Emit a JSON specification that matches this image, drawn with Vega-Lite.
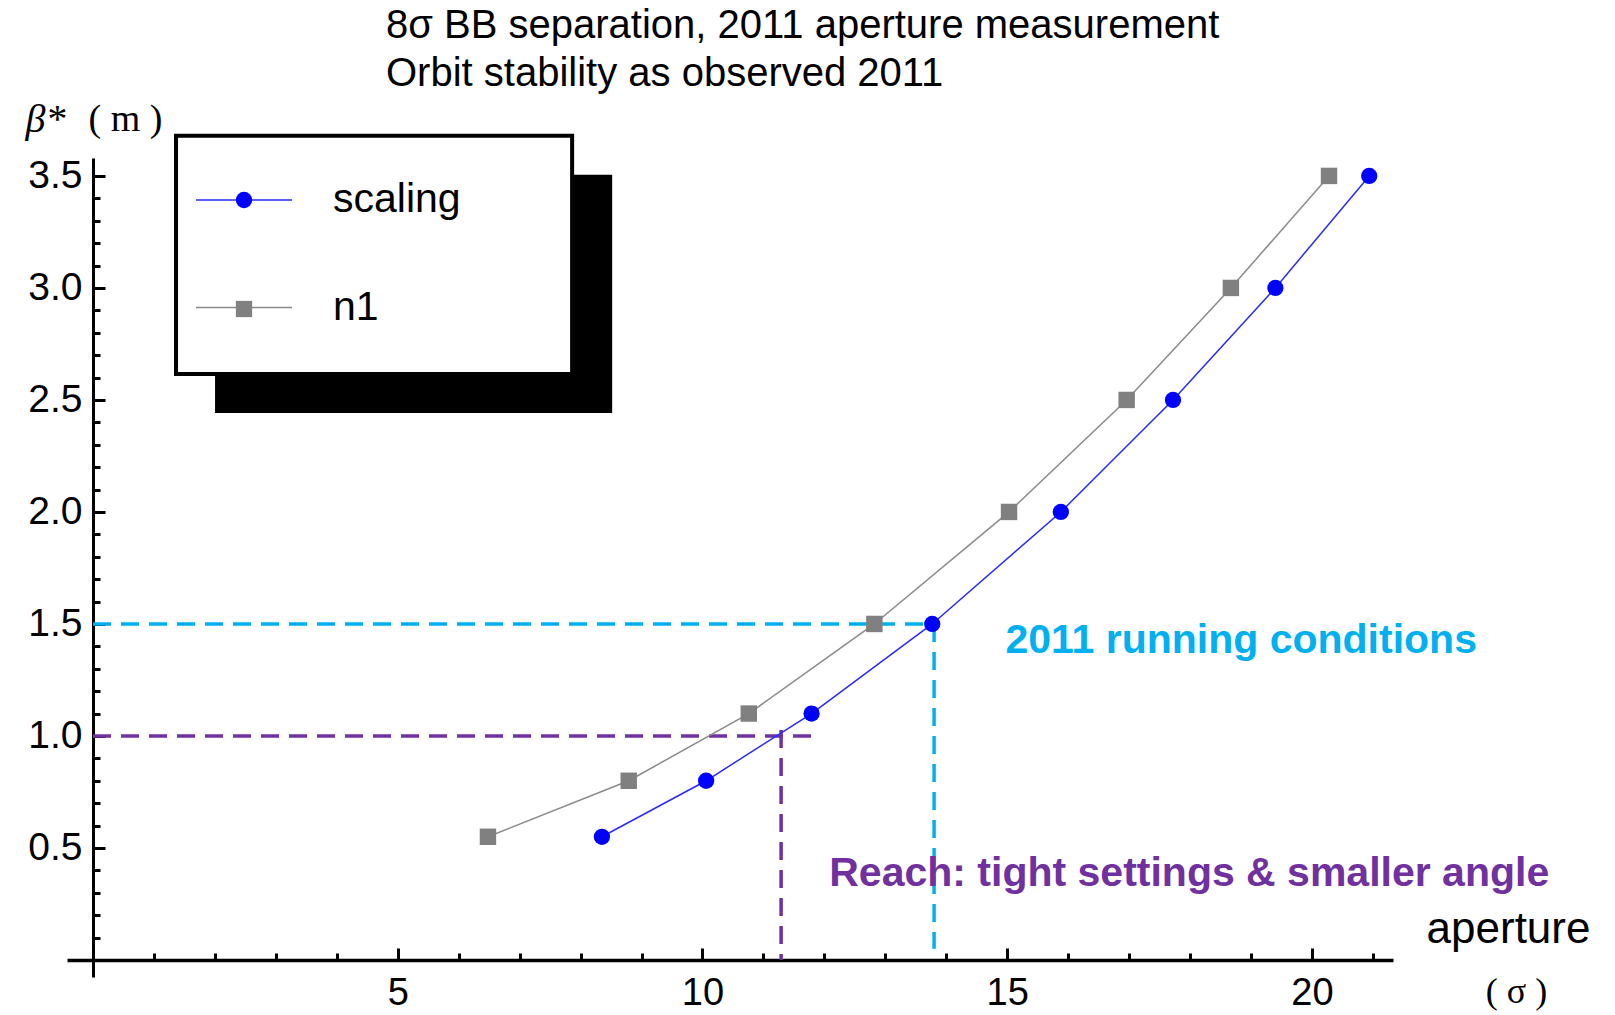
{
  "$schema": "https://vega.github.io/schema/vega-lite/v6.json",
  "width": 1326,
  "height": 819,
  "autosize": {"type": "none"},
  "padding": {"left": 67, "top": 158, "right": 222, "bottom": 38},
  "background": "white",
  "title": {
    "text": ["8σ BB separation, 2011 aperture measurement", "Orbit stability as observed 2011"],
    "anchor": "start",
    "frame": "group",
    "dx": 319,
    "offset": -27,
    "baseline": "alphabetic",
    "fontSize": 40,
    "font": "Liberation Sans",
    "fontWeight": "normal",
    "lineHeight": 48,
    "color": "black"
  },
  "config": {
    "view": {"stroke": null},
    "axis": {"grid": false, "labelOverlap": false}
  },
  "resolve": {"axis": {"x": "independent", "y": "independent"}},
  "data": {
    "values": [
      {"series": "scaling", "aperture": 8.35, "beta": 0.55},
      {"series": "scaling", "aperture": 10.06, "beta": 0.8},
      {"series": "scaling", "aperture": 11.79, "beta": 1.1},
      {"series": "scaling", "aperture": 13.77, "beta": 1.5},
      {"series": "scaling", "aperture": 15.88, "beta": 2.0},
      {"series": "scaling", "aperture": 17.72, "beta": 2.5},
      {"series": "scaling", "aperture": 19.4, "beta": 3.0},
      {"series": "scaling", "aperture": 20.94, "beta": 3.5},
      {"series": "n1", "aperture": 6.48, "beta": 0.55},
      {"series": "n1", "aperture": 8.79, "beta": 0.8},
      {"series": "n1", "aperture": 10.76, "beta": 1.1},
      {"series": "n1", "aperture": 12.82, "beta": 1.5},
      {"series": "n1", "aperture": 15.03, "beta": 2.0},
      {"series": "n1", "aperture": 16.96, "beta": 2.5},
      {"series": "n1", "aperture": 18.67, "beta": 3.0},
      {"series": "n1", "aperture": 20.28, "beta": 3.5}
    ]
  },
  "layer": [
    {
      "data": {"values": [{}]},
      "mark": {"type": "rect", "fill": "black"},
      "encoding": {
        "x": {
          "datum": 2.002,
          "type": "quantitative",
          "axis": {
            "orient": "bottom",
            "offset": -17,
            "values": [1, 2, 3, 4, 6, 7, 8, 9, 11, 12, 13, 14, 16, 17, 18, 19, 21],
            "labels": false,
            "domain": false,
            "tickSize": -7,
            "tickWidth": 3,
            "tickColor": "black",
            "title": "( σ )",
            "titleFont": "Liberation Serif",
            "titleFontSize": 36,
            "titleFontWeight": "normal",
            "titleColor": "black",
            "titleX": 1449,
            "titleY": 42,
            "titleAlign": "center",
            "titleBaseline": "alphabetic"
          }
        },
        "x2": {"datum": 8.518},
        "y": {
          "datum": 3.505,
          "type": "quantitative",
          "axis": {
            "orient": "left",
            "offset": -26,
            "values": [0.1, 0.2, 0.3, 0.4, 0.6, 0.7, 0.8, 0.9, 1.1, 1.2, 1.3, 1.4, 1.6, 1.7, 1.8, 1.9, 2.1, 2.2, 2.3, 2.4, 2.6, 2.7, 2.8, 2.9, 3.1, 3.2, 3.3, 3.4],
            "labels": false,
            "domain": false,
            "tickSize": -7,
            "tickWidth": 3,
            "tickColor": "black",
            "title": "( m )",
            "titleFont": "Liberation Serif",
            "titleFontSize": 38,
            "titleFontWeight": "normal",
            "titleColor": "black",
            "titleAngle": 0,
            "titleX": -5,
            "titleY": -28,
            "titleAlign": "left",
            "titleBaseline": "alphabetic"
          }
        },
        "y2": {"datum": 2.442}
      }
    },
    {
      "data": {"values": [{}]},
      "mark": {"type": "rect", "fill": "white", "stroke": "black", "strokeWidth": 4},
      "encoding": {
        "x": {"datum": 1.362, "type": "quantitative", "axis": null},
        "x2": {"datum": 7.861},
        "y": {"datum": 3.679, "type": "quantitative", "axis": null},
        "y2": {"datum": 2.616}
      }
    },
    {
      "data": {"values": [{}]},
      "mark": {"type": "rule", "color": "#00B0F0", "strokeWidth": 3.5, "strokeDash": [18, 10]},
      "encoding": {
        "x": {"datum": 0, "type": "quantitative", "axis": null},
        "x2": {"datum": 13.8},
        "y": {"datum": 1.5, "type": "quantitative", "axis": null}
      }
    },
    {
      "data": {"values": [{}]},
      "mark": {"type": "rule", "color": "#00B0F0", "strokeWidth": 3.5, "strokeDash": [18, 10]},
      "encoding": {
        "x": {"datum": 13.8, "type": "quantitative", "axis": null},
        "y": {"datum": 1.5, "type": "quantitative", "axis": null},
        "y2": {"datum": 0.05}
      }
    },
    {
      "data": {"values": [{}]},
      "mark": {"type": "rule", "color": "#7030A0", "strokeWidth": 3.5, "strokeDash": [18, 10]},
      "encoding": {
        "x": {"datum": 0, "type": "quantitative", "axis": null},
        "x2": {"datum": 11.8},
        "y": {"datum": 1.0, "type": "quantitative", "axis": null}
      }
    },
    {
      "data": {"values": [{}]},
      "mark": {"type": "rule", "color": "#7030A0", "strokeWidth": 3.5, "strokeDash": [18, 10]},
      "encoding": {
        "x": {"datum": 11.29, "type": "quantitative", "axis": null},
        "y": {"datum": 1.027, "type": "quantitative", "axis": null},
        "y2": {"datum": 0}
      }
    },
    {
      "mark": {"type": "line", "strokeWidth": 1.5},
      "encoding": {
        "x": {
          "field": "aperture",
          "type": "quantitative",
          "scale": {"domain": [-0.427, 21.33], "nice": false, "zero": false},
          "axis": {
            "orient": "bottom",
            "offset": -17,
            "values": [5, 10, 15, 20],
            "format": "d",
            "labelFontSize": 38,
            "labelFont": "Liberation Sans",
            "labelColor": "black",
            "labelPadding": 56,
            "labelOverlap": false,
            "labelFlush": false,
            "labelBaseline": "alphabetic",
            "tickSize": -12,
            "tickWidth": 3,
            "tickColor": "black",
            "domainWidth": 3.5,
            "domainColor": "black",
            "title": "aperture",
            "titleFont": "Liberation Sans",
            "titleFontSize": 44,
            "titleFontWeight": "normal",
            "titleColor": "black",
            "titleX": 1441,
            "titleY": -18,
            "titleAlign": "center",
            "titleBaseline": "alphabetic"
          }
        },
        "y": {
          "field": "beta",
          "type": "quantitative",
          "scale": {"domain": [-0.076, 3.58], "nice": false, "zero": false},
          "axis": {
            "orient": "left",
            "offset": -26,
            "values": [0.5, 1.0, 1.5, 2.0, 2.5, 3.0, 3.5],
            "format": ".1f",
            "labelFontSize": 39,
            "labelFont": "Liberation Sans",
            "labelColor": "black",
            "labelPadding": 23,
            "labelOverlap": false,
            "labelFlush": false,
            "tickSize": -12,
            "tickWidth": 3,
            "tickColor": "black",
            "domainWidth": 3,
            "domainColor": "black",
            "title": "β*",
            "titleFont": "Liberation Serif",
            "titleFontStyle": "italic",
            "titleFontSize": 40,
            "titleFontWeight": "normal",
            "titleColor": "black",
            "titleAngle": 0,
            "titleX": -68,
            "titleY": -27,
            "titleAlign": "left",
            "titleBaseline": "alphabetic"
          }
        },
        "color": {
          "field": "series",
          "type": "nominal",
          "scale": {"domain": ["scaling", "n1"], "range": ["#2a2aff", "#8a8a8a"]},
          "legend": {
            "orient": "none",
            "legendX": 128,
            "legendY": -7,
            "title": null,
            "symbolType": "stroke",
            "symbolSize": 9216,
            "symbolStrokeWidth": 1.5,
            "labelFontSize": 41,
            "labelFont": "Liberation Sans",
            "labelColor": "black",
            "labelOffset": 40,
            "rowPadding": 38.5,
            "zindex": 1
          }
        }
      }
    },
    {
      "transform": [{"filter": "datum.series === 'scaling'"}],
      "mark": {"type": "point", "shape": "circle", "filled": true, "size": 265, "color": "#0000ff", "opacity": 1},
      "encoding": {
        "x": {"field": "aperture", "type": "quantitative", "axis": null},
        "y": {"field": "beta", "type": "quantitative", "axis": null}
      }
    },
    {
      "transform": [{"filter": "datum.series === 'n1'"}],
      "mark": {"type": "point", "shape": "square", "filled": true, "size": 270, "color": "#808080", "opacity": 1},
      "encoding": {
        "x": {"field": "aperture", "type": "quantitative", "axis": null},
        "y": {"field": "beta", "type": "quantitative", "axis": null}
      }
    },
    {
      "transform": [{"filter": "false"}],
      "mark": {"type": "point", "filled": true, "opacity": 1, "size": 265},
      "encoding": {
        "x": {"field": "aperture", "type": "quantitative", "axis": null},
        "y": {"field": "beta", "type": "quantitative", "axis": null},
        "fill": {
          "field": "series",
          "type": "nominal",
          "scale": {"domain": ["scaling", "n1", "none"], "range": ["#0000ff", "#808080", "#ffffff"]},
          "legend": {"orient": "none", "legendX": 128, "legendY": 21.5, "title": null, "values": ["scaling", "n1"], "symbolSize": 265, "symbolOffset": 28.5, "symbolStrokeWidth": 0, "labelFontSize": 41, "labelExpr": "''", "rowPadding": 67, "zindex": 2}
        },
        "shape": {
          "field": "series",
          "type": "nominal",
          "scale": {"domain": ["scaling", "n1", "none"], "range": ["circle", "square", "circle"]},
          "legend": {"orient": "none", "legendX": 128, "legendY": 21.5, "title": null, "values": ["scaling", "n1"], "symbolSize": 265, "symbolOffset": 28.5, "symbolStrokeWidth": 0, "labelFontSize": 41, "labelExpr": "''", "rowPadding": 67, "zindex": 2}
        }
      }
    },
    {
      "data": {"values": [{}]},
      "mark": {"type": "text", "text": "2011 running conditions", "align": "left", "baseline": "alphabetic", "fontSize": 41, "fontWeight": "bold", "font": "Liberation Sans", "color": "#00B0F0"},
      "encoding": {
        "x": {"datum": 14.97, "type": "quantitative", "axis": null},
        "y": {"datum": 1.37, "type": "quantitative", "axis": null}
      }
    },
    {
      "data": {"values": [{}]},
      "mark": {"type": "text", "text": "Reach: tight settings & smaller angle", "align": "left", "baseline": "alphabetic", "fontSize": 41, "fontWeight": "bold", "font": "Liberation Sans", "color": "#7030A0"},
      "encoding": {
        "x": {"datum": 12.08, "type": "quantitative", "axis": null},
        "y": {"datum": 0.33, "type": "quantitative", "axis": null}
      }
    }
  ]
}
